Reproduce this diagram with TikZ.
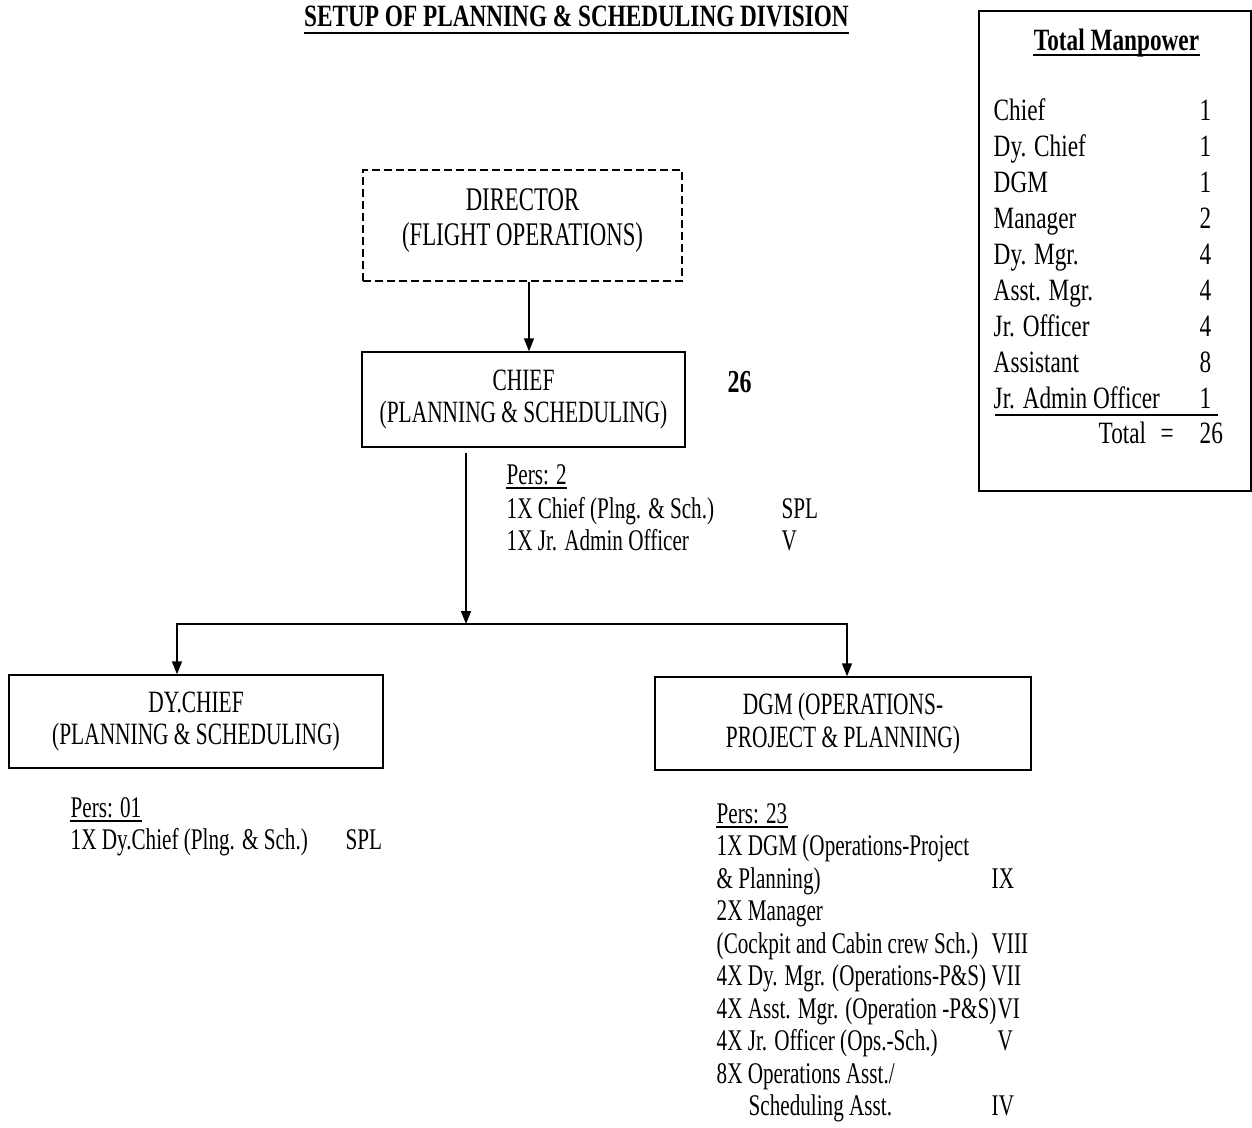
\documentclass[tikz,border=0pt]{standalone}
\usepackage{fontspec}
\setmainfont{Liberation Serif}[FakeStretch=0.75]
\newfontfamily\fa{Liberation Serif}[FakeStretch=0.69]
\newfontfamily\fb{Liberation Serif}[FakeStretch=0.75]
\newfontfamily\fc{Liberation Serif}[FakeStretch=0.705]
\usetikzlibrary{arrows.meta}
\begin{document}
\begin{tikzpicture}[x=1pt,y=-1pt,line width=1.4pt,
  box/.style={draw,line width=1.4pt,align=center,inner sep=0pt,font=\fa\fontsize{31}{32}\selectfont},
  lst/.style={anchor=base west,inner sep=0pt,font=\fc\fontsize{30}{30}\selectfont},
  mp/.style={anchor=base west,inner sep=0pt,font=\fb\fontsize{31}{32}\selectfont},
  arr/.style={-{Triangle[length=13pt,width=10pt]},line width=1.5pt},
  uline/.style={line width=1.2pt}]
\useasboundingbox (0,0) rectangle (1252,1127);

% title
\node[anchor=base,inner sep=0pt,font=\fb\bfseries\fontsize{31}{32}\selectfont] (title) at (576.5,27) {SETUP OF PLANNING \& SCHEDULING DIVISION};
\draw[line width=2pt] ([yshift=-6pt]title.base west) -- ([yshift=-6pt]title.base east);

% boxes
\node[box,dash pattern=on 8pt off 4pt,minimum width=319,minimum height=111,font=\fa\fontsize{33}{35}\selectfont] (dir) at (522.5,225.5) {DIRECTOR\\(FLIGHT OPERATIONS)\rule[-17pt]{0pt}{17pt}};
\node[box,minimum width=323,minimum height=95] (chief) at (523.5,399.5) {CHIEF\\(PLANNING \& SCHEDULING)};
\node[box,minimum width=374,minimum height=93] (dychief) at (196,721.5) {DY.CHIEF\\(PLANNING \& SCHEDULING)};
\node[box,minimum width=376,minimum height=93,font=\fa\fontsize{31}{33}\selectfont] (dgm) at (843,723.5) {DGM (OPERATIONS-\\PROJECT \& PLANNING)};

% connectors
\coordinate (ax) at (529,0);
\coordinate (bus) at (466,624);
\coordinate (bl) at (177,624);
\coordinate (br) at (847,624);
\draw[arr] (dir.south -| ax) -- (chief.north -| ax);
\draw[arr,shorten <=5pt] (chief.south -| bus) -- (bus);
\draw[arr] (bus) -| (dychief.north -| bl);
\draw[arr] (bus) -| (dgm.north -| br);

% total next to chief
\node[anchor=base west,inner sep=0pt,font=\fb\bfseries\fontsize{32}{32}\selectfont] (n26) at (727,392) {26};

% chief personnel
\node[lst] (cp0) at (506,484) {Pers: 2};
\draw[uline] ([yshift=-4pt]cp0.base west) -- ([yshift=-4pt]cp0.base east);
\node[lst] (cp1) at (506,518) {1X Chief (Plng. \& Sch.)};
\node[lst] (cp1g) at (781,518) {SPL};
\node[lst] (cp2) at (506,550) {1X Jr. Admin Officer};
\node[lst] (cp2g) at (781,550) {V};

% dy chief personnel
\node[lst] (dp0) at (70,817) {Pers: 01};
\draw[uline] ([yshift=-4pt]dp0.base west) -- ([yshift=-4pt]dp0.base east);
\node[lst] (dp1) at (70,849) {1X Dy.Chief (Plng. \& Sch.)};
\node[lst] (dp1g) at (345,849) {SPL};

% dgm personnel
\node[lst] (gp0) at (716,823) {Pers: 23};
\draw[uline] ([yshift=-4pt]gp0.base west) -- ([yshift=-4pt]gp0.base east);
\node[lst] (gp1) at (716,855) {1X DGM (Operations-Project};
\node[lst] (gp2) at (716,888) {\& Planning)};
\node[lst] (gp2g) at (991,888) {IX};
\node[lst] (gp3) at (716,920) {2X Manager};
\node[lst] (gp4) at (716,953) {(Cockpit and Cabin crew Sch.)};
\node[lst] (gp4g) at (991,953) {VIII};
\node[lst] (gp5) at (716,985) {4X Dy. Mgr. (Operations-P\&S)};
\node[lst] (gp5g) at (991,985) {VII};
\node[lst] (gp6) at (716,1018) {4X Asst. Mgr. (Operation -P\&S)};
\node[lst] (gp6g) at (997,1018) {VI};
\node[lst] (gp7) at (716,1050) {4X Jr. Officer (Ops.-Sch.)};
\node[lst] (gp7g) at (997,1050) {V};
\node[lst] (gp8) at (716,1083) {8X Operations Asst./};
\node[lst] (gp9) at (748,1115) {Scheduling Asst.};
\node[lst] (gp9g) at (991,1115) {IV};

% manpower box
\node[draw,line width=1.5pt,minimum width=272,minimum height=480,anchor=north west,inner sep=0pt] (mpbox) at (978,10) {};
\node[anchor=base,inner sep=0pt,font=\fb\bfseries\fontsize{31}{32}\selectfont] (mptitle) at (1116.5,50) {Total Manpower};
\draw[line width=1.6pt] ([yshift=-5pt]mptitle.base west) -- ([yshift=-5pt]mptitle.base east);
\foreach \i/\lab/\num in {0/Chief/1,1/Dy. Chief/1,2/DGM/1,3/Manager/2,4/Dy. Mgr./4,5/Asst. Mgr./4,6/Jr. Officer/4,7/Assistant/8,8/Jr. Admin Officer/1}{
  \node[mp] (ml\i) at (993,120+36*\i) {\lab};
  \node[mp] (mn\i) at (1199,120+36*\i) {\num};
}
\coordinate (r1) at (995,415);
\coordinate (r2) at (1218,415);
\draw[line width=1.6pt] (r1) -- (r2);
\node[mp] (tl) at (1098,443) {Total};
\node[mp] (te) at (1160,443) {=};
\node[mp] (tn) at (1199,443) {26};
\end{tikzpicture}
\end{document}
